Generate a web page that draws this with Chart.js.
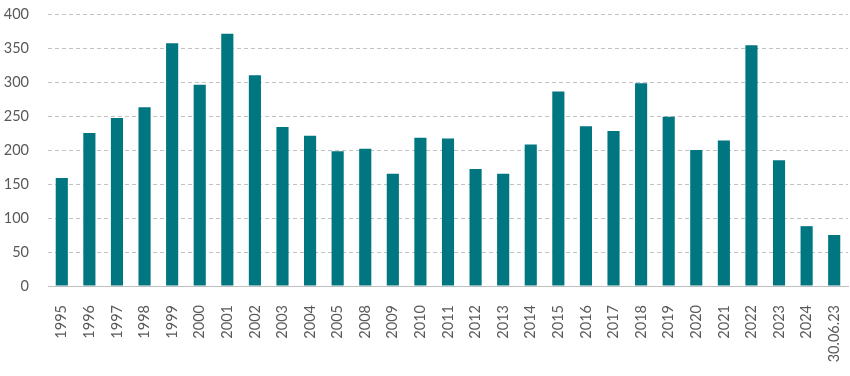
<!DOCTYPE html>
<html>
<head>
<meta charset="utf-8">
<script src="https://cdn.jsdelivr.net/npm/chart.js@4/dist/chart.umd.min.js"></script>
<style>
html,body{margin:0;padding:0;background:#fff}
#wrap{width:850px;height:376px}
</style>
</head>
<body>
<div id="wrap"><canvas id="chart" width="850" height="376"></canvas></div>
<script>
const categories = ["1995","1996","1997","1998","1999","2000","2001","2002","2003","2004","2005","2008","2009","2010","2011","2012","2013","2014","2015","2016","2017","2018","2019","2020","2021","2022","2023","2024","30.06.23"]
const values = [159,225,247,263,357,296,371,310,234,221,198,202,165,218,217,172,165,208,286,235,228,298,249,200,214,354,185,88,75]
const yTicks = [0,50,100,150,200,250,300,350,400]

const textColor = "#595959"
const barColor = "#007780"

const ctx = document.getElementById("chart").getContext("2d")
new Chart(ctx,{
    type:"bar",
    data:{
        labels:categories,
        datasets:[{data:values,backgroundColor:barColor,barPercentage:0.44,categoryPercentage:1}]
    },
    options:{
        responsive:false,
        animation:false,
        layout:{padding:{top:14,right:2,left:0,bottom:0}},
        plugins:{legend:{display:false},tooltip:{enabled:false}},
        scales:{
            x:{
                grid:{display:false,drawTicks:false},
                border:{display:true,color:"#bfbfbf",width:1},
                ticks:{color:textColor,font:{family:"Lato",size:14.5},minRotation:90,maxRotation:90,padding:19,autoSkip:false},
                afterFit:s=>{s.height=90;s.paddingLeft=0;s.paddingRight=0}
            },
            y:{
                min:0,max:400,
                afterBuildTicks:s=>{s.ticks=yTicks.map(v=>({value:v}))},
                grid:{color:c=>c.tick.value===0?"rgba(0,0,0,0)":"#c2c2c2",drawTicks:false,lineWidth:1},
                border:{display:false,dash:[4,3]},
                ticks:{color:textColor,font:{family:"Lato",size:14.5},padding:19},
                afterFit:s=>{s.width=48;s.paddingTop=0;s.paddingBottom=0}
            }
        }
    }
})
</script>
</body>
</html>
